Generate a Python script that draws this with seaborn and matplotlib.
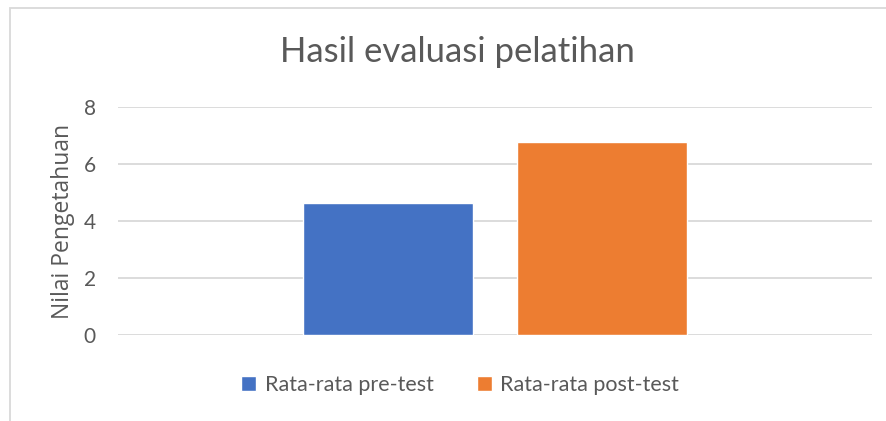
import pandas as pd
import matplotlib.pyplot as plt
import seaborn as sns
from matplotlib.patches import Rectangle

# Data
kategori = ['Hasil']
seri = ['Rata-rata pre-test', 'Rata-rata post-test']
nilai = [4.63, 6.77]
warna = ['#4472C4', '#ED7D31']

df = pd.DataFrame({'Kategori': kategori * len(seri), 'Seri': seri, 'Nilai': nilai})

sns.set_theme(style="white")
plt.rcParams['font.family'] = ['Lato', 'DejaVu Sans']

fig = plt.figure(figsize=(8.87, 4.21), dpi=100)
ax = fig.add_axes([118 / 887, 1 - 335 / 421, (872 - 118) / 887, (335 - 107) / 421])

sns.barplot(data=df, x='Kategori', y='Nilai', hue='Seri', palette=warna, saturation=1,
            width=0.568, gap=0.206, ax=ax, legend=True, zorder=3)

ax.set_ylim(0, 8)
ax.set_xlim(-0.5, 0.5)
ax.set_yticks([0, 2, 4, 6, 8])
ax.yaxis.grid(True, color='#D9D9D9', linewidth=1.3, zorder=0)
ax.set_axisbelow(True)
for s in ax.spines.values():
    s.set_visible(False)
ax.set_xticks([])
ax.set_xlabel('')
ax.tick_params(axis='y', length=0, pad=16, labelsize=15, labelcolor='#595959')
ax.set_ylabel('Nilai Pengetahuan', fontsize=16.5, color='#595959', family='Open Sans', labelpad=6)

# Judul
fig.text(457 / 887, 1 - 52 / 421, 'Hasil evaluasi pelatihan', ha='center', va='center',
         fontsize=25, color='#595959')

# Legenda di bawah
ax.legend_.remove()
handles, labels = ax.get_legend_handles_labels()
fig.legend(handles, labels, loc='center', bbox_to_anchor=(460 / 887, 1 - 385 / 421),
           ncol=2, frameon=False, fontsize=15.5, labelcolor='#595959',
           handlelength=0.7, handleheight=0.7, handletextpad=0.4, columnspacing=2.0)

# Bingkai grafik
fig.patches.append(Rectangle((10 / 887, -0.1), 1.2, 1 - 8 / 421 + 0.1, transform=fig.transFigure,
                             fill=False, edgecolor='#D9D9D9', linewidth=1.3))

fig.savefig('out.png', dpi=100)
